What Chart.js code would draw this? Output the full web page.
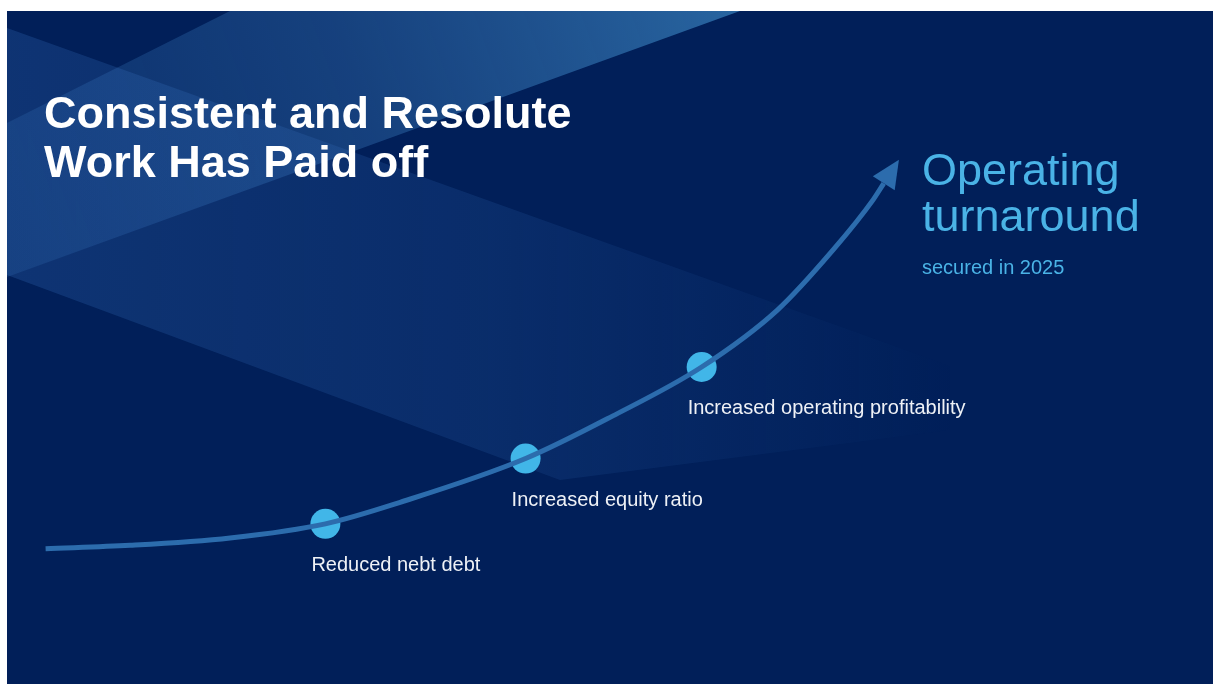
<!DOCTYPE html>
<html>
<head>
<meta charset="utf-8">
<script src="https://cdn.jsdelivr.net/npm/chart.js@4.4.1/dist/chart.umd.min.js"></script>
<style>
  html, body { margin: 0; padding: 0; background: #ffffff; width: 1213px; height: 684px; overflow: hidden; }
  #slide { position: absolute; left: 7px; top: 11px; width: 1206px; height: 673px; background: #011f59; overflow: hidden; }
  #c { position: absolute; left: 0; top: 0; display: block; }
  .title { position: absolute; left: 37px; top: 77px; font-family: "Liberation Sans", Arial, sans-serif; font-weight: bold; font-size: 45px; line-height: 49px; color: #ffffff; white-space: nowrap; }
  .headline { position: absolute; left: 915px; top: 136px; font-family: "Liberation Sans", Arial, sans-serif; font-size: 45px; line-height: 46px; color: #4ab3e6; white-space: nowrap; }
  .note { position: absolute; left: 915px; top: 246px; font-family: "Liberation Sans", Arial, sans-serif; font-size: 20px; line-height: 20px; color: #4ab3e6; white-space: nowrap; }
</style>
</head>
<body>
<div id="slide">
  <canvas id="c" width="1206" height="673"></canvas>
  <div class="title" id="title"></div>
  <div class="headline" id="headline"></div>
  <div class="note" id="note"></div>
</div>
<script>
// ---- data (abstract progress units: x 0..100 across slide, y 0..100 up the slide) ----
const curveX = [3.2, 10.2, 18.5, 26.4, 32.6, 43.0, 50.2, 57.6, 63.9, 68.5, 71.8, 72.7];
const curveY = [20.1, 20.6, 21.7, 23.8, 27.0, 33.5, 39.8, 47.1, 55.6, 64.5, 71.9, 74.4];
const milestoneX = [26.4, 43.0, 57.6];
const milestoneY = [23.8, 33.5, 47.1];
const milestoneLabels = ['Reduced nebt debt', 'Increased equity ratio', 'Increased operating profitability'];
const titleLines = ['Consistent and Resolute', 'Work Has Paid off'];
const headlineLines = ['Operating', 'turnaround'];
const headlineNote = 'secured in 2025';

document.getElementById('title').innerHTML = titleLines.join('<br>');
document.getElementById('headline').innerHTML = headlineLines.join('<br>');
document.getElementById('note').textContent = headlineNote;

// decorative background bands (slide coordinates)
const bgPlugin = {
  id: 'bgBands',
  beforeDraw(chart) {
    const ctx = chart.ctx;
    ctx.save();
    // band going up-right
    let g = ctx.createLinearGradient(0, 266, 733, 0);
    g.addColorStop(0, 'rgba(50,110,180,0.22)');
    g.addColorStop(0.5, 'rgba(60,125,190,0.36)');
    g.addColorStop(1, 'rgba(65,145,205,0.62)');
    ctx.fillStyle = g;
    ctx.beginPath();
    ctx.moveTo(223, 0); ctx.lineTo(733, 0); ctx.lineTo(0, 266); ctx.lineTo(0, 112);
    ctx.closePath(); ctx.fill();
    // band going down-right
    g = ctx.createLinearGradient(0, 0, 950, 0);
    g.addColorStop(0, 'rgba(60,120,200,0.24)');
    g.addColorStop(0.5, 'rgba(60,120,200,0.16)');
    g.addColorStop(1, 'rgba(60,120,200,0.0)');
    ctx.fillStyle = g;
    ctx.beginPath();
    ctx.moveTo(0, 17); ctx.lineTo(943, 355);
    ctx.lineTo(943, 419); ctx.lineTo(553, 469); ctx.lineTo(0, 264);
    ctx.closePath(); ctx.fill();
    ctx.restore();
  }
};

const arrowPlugin = {
  id: 'arrowHead',
  afterDatasetsDraw(chart) {
    const pts = chart.getDatasetMeta(0).data;
    const a = pts[pts.length - 2], b = pts[pts.length - 1];
    const dx = b.x - a.x, dy = b.y - a.y, len = Math.hypot(dx, dy);
    const ux = dx / len, uy = dy / len;
    const L = 28, W = 13;
    const ctx = chart.ctx;
    ctx.save();
    ctx.fillStyle = '#2c6cad';
    ctx.beginPath();
    ctx.moveTo(b.x + ux * L, b.y + uy * L);
    ctx.lineTo(b.x - uy * W, b.y + ux * W);
    ctx.lineTo(b.x + uy * W, b.y - ux * W);
    ctx.closePath(); ctx.fill();
    ctx.restore();
  }
};

const labelPlugin = {
  id: 'milestoneLabels',
  afterDatasetsDraw(chart) {
    const pts = chart.getDatasetMeta(1).data;
    const ctx = chart.ctx;
    ctx.save();
    ctx.font = '20px "Liberation Sans", Arial, sans-serif';
    ctx.fillStyle = '#eef1f6';
    ctx.textBaseline = 'alphabetic';
    ctx.textAlign = 'left';
    pts.forEach((p, i) => ctx.fillText(milestoneLabels[i], p.x - 14, p.y + 47));
    ctx.restore();
  }
};

new Chart(document.getElementById('c'), {
  type: 'line',
  data: {
    datasets: [
      {
        data: curveX.map((x, i) => ({ x, y: curveY[i] })),
        borderColor: '#2c6cad',
        borderWidth: 5,
        pointRadius: 0,
        cubicInterpolationMode: 'monotone',
        fill: false,
        borderCapStyle: 'butt'
      },
      {
        data: milestoneX.map((x, i) => ({ x, y: milestoneY[i] })),
        showLine: false,
        pointRadius: 15,
        pointHoverRadius: 15,
        pointBackgroundColor: '#41b6e8',
        pointBorderWidth: 0,
        borderWidth: 0
      }
    ]
  },
  options: {
    responsive: false,
    animation: false,
    devicePixelRatio: 1,
    layout: { padding: 0, autoPadding: false },
    plugins: { legend: { display: false }, tooltip: { enabled: false }, title: { display: false } },
    scales: {
      x: { type: 'linear', min: 0, max: 100, display: false },
      y: { type: 'linear', min: 0, max: 100, display: false }
    }
  },
  plugins: [bgPlugin, arrowPlugin, labelPlugin]
});
</script>
</body>
</html>
